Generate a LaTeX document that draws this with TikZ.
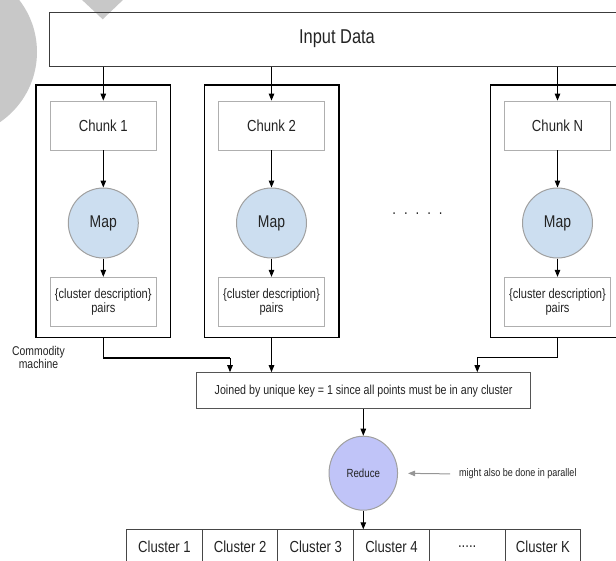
\documentclass[tikz,border=0pt]{standalone}
\usepackage{fontspec}
\setmainfont{Liberation Sans}[FakeStretch=0.82]
\usetikzlibrary{arrows.meta,shapes.geometric,positioning}

\definecolor{markgray}{RGB}{200,200,200}
\definecolor{mapblue}{RGB}{204,222,240}
\definecolor{reduceblue}{RGB}{192,196,248}
\definecolor{rimgray}{RGB}{160,160,160}
\definecolor{innergray}{RGB}{175,175,175}
\definecolor{notegray}{RGB}{150,150,150}
\definecolor{textgray}{RGB}{35,35,35}

\tikzset{
  fs/.style={font=\fontsize{#1}{#1}\selectfont},
  fsl/.style 2 args={font=\fontsize{#1}{#2}\selectfont},
  inputbox/.style={draw={rgb,255:red,60;green,60;blue,60}, line width=1pt, minimum width=576pt, minimum height=54pt, inner sep=0pt, fs=20},
  machine/.style={draw=black, line width=1.5pt, minimum width=134.5pt, minimum height=252.5pt, inner sep=0pt},
  chunkbox/.style={draw=innergray, line width=0.8pt, minimum width=106pt, minimum height=49pt, inner sep=0pt, fs=16},
  pairbox/.style={draw=innergray, line width=0.8pt, minimum width=106pt, minimum height=49.5pt, inner sep=0pt, align=center, fsl={13.5}{13.5}},
  mapnode/.style={circle, draw=rimgray, line width=1pt, fill=mapblue, minimum size=70pt, inner sep=0pt, fs=17},
  reducenode/.style={ellipse, draw=rimgray, line width=1pt, fill=reduceblue, minimum width=68.5pt, minimum height=74pt, inner sep=0pt, fs=11.8},
  joinbox/.style={draw={rgb,255:red,85;green,85;blue,85}, line width=1pt, minimum width=334pt, minimum height=36pt, inner sep=0pt, fs=13},
  cell/.style={draw={rgb,255:red,70;green,70;blue,70}, line width=1pt, minimum width=75.7pt, minimum height=35pt, inner sep=0pt, outer sep=0pt, fs=16},
  label/.style={inner sep=0pt, align=center},
  arr/.style={draw=black, line width=1pt, -{Triangle[length=7pt,width=5.5pt]}},
  line/.style={draw=black, line width=1.2pt},
  notearr/.style={draw=notegray, line width=1pt, -{Triangle[length=7pt,width=5.5pt]}},
}

\begin{document}
\begin{tikzpicture}[x=1pt,y=-1pt,text=textgray]
\useasboundingbox (0,0) rectangle (616,560);

% corner mark
\fill[markgray] (-48,52) circle[radius=85];
\fill[markgray] (80,-2) -- (125,-2) -- (102.7,19.3) -- cycle;

% input data
\node[inputbox] (input) at (337,39) {Input Data};

% commodity machines
\foreach \n/\x/\c in {1/103.3/1, 2/271.5/2, N/557.5/N} {
  \node[machine] (m\n) at (\x,211.3) {};
  \node[chunkbox] (chunk\n) at (\x,125.5) {Chunk \c};
  \node[mapnode] (map\n) at (\x,223) {Map};
  \node[pairbox] (pair\n) at (\x,302) {\{cluster description\}\\pairs};
  \draw[arr] (input.south -| chunk\n.north) -- (chunk\n.north);
  \draw[arr] (chunk\n.south) -- (map\n.north);
  \draw[arr] (map\n.south) -- (pair\n.north);
}

\node[label, fs=16, anchor=base] (dots) at (417.5,214) {.\,\,\,.\,\,\,.\,\,\,.\,\,\,.};

\node[label, fsl={12.7}{13.6}, align=center] (commodity) at (38.5,357.5) {Commodity\\machine};

% joining step
\node[joinbox] (join) at (363.6,390.7) {Joined by unique key = 1 since all points must be in any cluster};

\coordinate (bend1) at (230,358);
\coordinate (bendN) at (477.3,357.3);
\draw[line] (m1.south) |- (bend1);
\draw[arr] (bend1) -- (bend1 |- join.north);
\draw[arr] (m2.south) -- (m2.south |- join.north);
\draw[line] (mN.south) |- (bendN);
\draw[arr] (bendN) -- (bendN |- join.north);

% reduce
\node[reducenode] (reduce) at (363.3,473.2) {Reduce};
\draw[arr] (join.south -| reduce.north) -- (reduce.north);

\node[label, fs=11, anchor=west] (note) at (459,474) {might also be done in parallel};
\draw[notearr, shorten <=9pt, shorten >=10pt] (note.west) -- (reduce.east);

% result clusters
\node[cell] (c1) at (164.4,546.8) {Cluster 1};
\node[cell, anchor=west] (c2) at (c1.east) {Cluster 2};
\node[cell, anchor=west] (c3) at (c2.east) {Cluster 3};
\node[cell, anchor=west] (c4) at (c3.east) {Cluster 4};
\node[cell, anchor=west] (c5) at (c4.east) {.....};
\node[cell, anchor=west] (c6) at (c5.east) {Cluster K};
\draw[arr] (reduce.south) -- (reduce.south |- c4.north);
\end{tikzpicture}
\end{document}
